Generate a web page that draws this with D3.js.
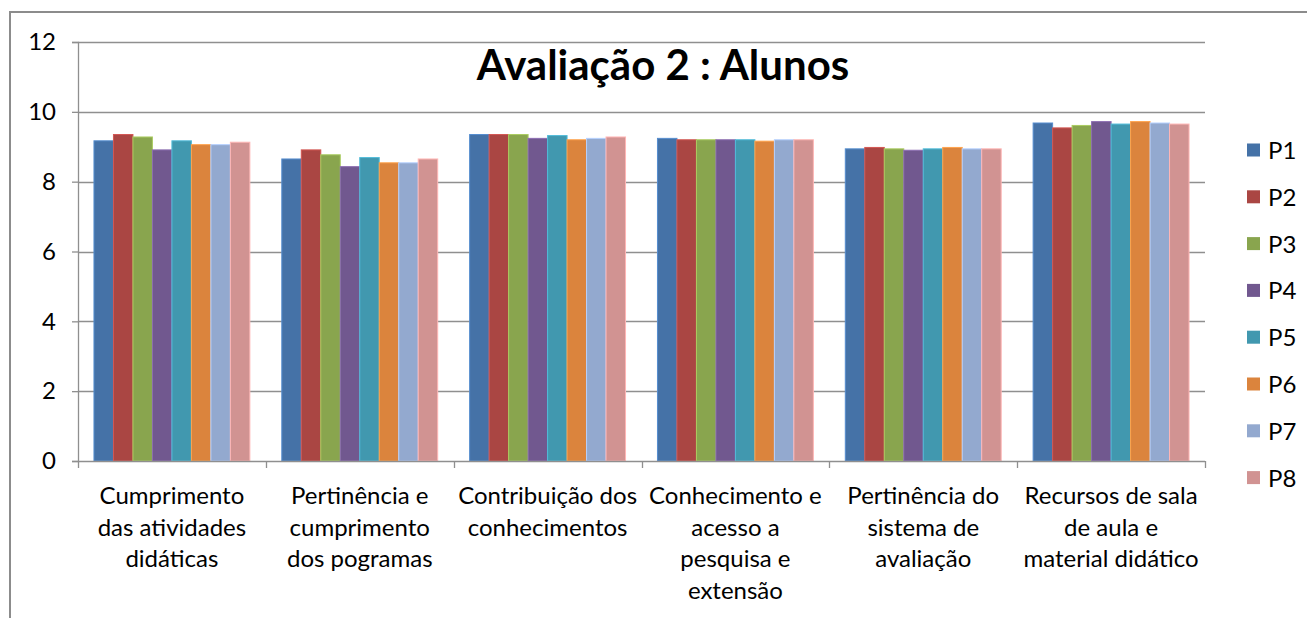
<!DOCTYPE html>
<html>
<head>
<meta charset="utf-8">
<script src="https://cdn.jsdelivr.net/npm/d3@7"></script>
<style>
  html, body { margin: 0; padding: 0; background: #fff; }
  svg { display: block; }
  text { font-family: Lato, "Open Sans", sans-serif; fill: #000; }
</style>
</head>
<body>
<svg id="chart" width="1307" height="618"></svg>
<script>
const categories = [
  ["Cumprimento", "das atividades", "didáticas"],
  ["Pertinência e", "cumprimento", "dos pogramas"],
  ["Contribuição dos", "conhecimentos"],
  ["Conhecimento e", "acesso a", "pesquisa e", "extensão"],
  ["Pertinência do", "sistema de", "avaliação"],
  ["Recursos de sala", "de aula e", "material didático"]
];
const seriesNames = ["P1", "P2", "P3", "P4", "P5", "P6", "P7", "P8"];
const P1 = [9.17, 8.65, 9.35, 9.24, 8.94, 9.68];
const P2 = [9.35, 8.91, 9.35, 9.20, 8.98, 9.54];
const P3 = [9.28, 8.77, 9.35, 9.20, 8.94, 9.61];
const P4 = [8.91, 8.43, 9.24, 9.20, 8.90, 9.72];
const P5 = [9.17, 8.69, 9.32, 9.20, 8.94, 9.65];
const P6 = [9.06, 8.54, 9.20, 9.16, 8.98, 9.72];
const P7 = [9.06, 8.54, 9.24, 9.20, 8.94, 9.68];
const P8 = [9.13, 8.65, 9.28, 9.20, 8.94, 9.65];
const seriesValues = [P1, P2, P3, P4, P5, P6, P7, P8];
const colors = ["#4572A7", "#AA4643", "#89A54E", "#71588F", "#4198AF", "#DB843D", "#93A9CF", "#D19392"];
const yTicks = [0, 2, 4, 6, 8, 10, 12];
const title = "Avaliação 2 : Alunos";

(function () {
const svg = d3.select("#chart");
const catKeys = categories.map((c, i) => i);

svg.append("path")
  .attr("d", "M10,618 L10,12 L1307,12")
  .attr("fill", "none").attr("stroke", "#8c8c8c").attr("stroke-width", 2);

const pLeft = 78, pRight = 1205, pTop = 42, pBottom = 461;
const y = d3.scaleLinear().domain([0, 12]).range([pBottom, pTop]);
const x0 = d3.scaleBand().domain(catKeys).range([pLeft, pRight]).padding(0);
const bw = x0.bandwidth();
const x1 = d3.scaleBand().domain(seriesNames).range([bw * 0.085, bw * 0.915]).padding(0);

svg.append("g").selectAll("line").data(yTicks.filter(d => d > 0)).join("line")
  .attr("x1", pLeft).attr("x2", pRight)
  .attr("y1", d => Math.round(y(d)) + 0.5).attr("y2", d => Math.round(y(d)) + 0.5)
  .attr("stroke", "#8f8f8f").attr("stroke-width", 1.3);

const yAxis = d3.axisLeft(y).tickValues(yTicks).tickSize(6).tickPadding(16).tickFormat(d3.format("d"));
const gy = svg.append("g").attr("transform", `translate(${pLeft},0)`).call(yAxis);
gy.select(".domain").attr("stroke", "#8f8f8f").attr("stroke-width", 1.3);
gy.selectAll(".tick line").attr("stroke", "#8f8f8f").attr("stroke-width", 1.3);
gy.selectAll(".tick text").attr("font-size", 24).attr("font-family", "Lato, sans-serif").attr("fill", "#111");

const groups = svg.append("g").selectAll("g").data(catKeys).join("g")
  .attr("transform", d => `translate(${x0(d)},0)`);
groups.selectAll("rect")
  .data(ci => seriesNames.map((s, si) => ({ s, si, v: seriesValues[si][ci] })))
  .join("rect")
  .attr("x", d => x1(d.s))
  .attr("width", x1.bandwidth())
  .attr("y", d => y(d.v))
  .attr("height", d => y(0) - y(d.v))
  .attr("fill", d => colors[d.si])
  .attr("stroke", d => d3.color(colors[d.si]).brighter(0.6))
  .attr("stroke-width", 1);

const xAxisLine = svg.append("g");
xAxisLine.append("line").attr("x1", pLeft).attr("x2", pRight)
  .attr("y1", pBottom + 0.5).attr("y2", pBottom + 0.5)
  .attr("stroke", "#8f8f8f").attr("stroke-width", 1.3);
const bounds = catKeys.map(k => x0(k)).concat([pRight]);
xAxisLine.selectAll("line.tk").data(bounds).join("line").attr("class", "tk")
  .attr("x1", d => Math.round(d) + 0.5).attr("x2", d => Math.round(d) + 0.5)
  .attr("y1", pBottom).attr("y2", pBottom + 7)
  .attr("stroke", "#8f8f8f").attr("stroke-width", 1.3);

const lbl = svg.append("g").selectAll("text").data(catKeys).join("text")
  .attr("text-anchor", "middle")
  .attr("font-size", 24)
  .attr("fill", "#222");
lbl.each(function (ci) {
  const t = d3.select(this);
  categories[ci].forEach((line, li) => {
    t.append("tspan").attr("x", x0(ci) + bw / 2).attr("y", 504 + li * 31.5).text(line);
  });
});

svg.append("text").attr("x", 663).attr("y", 80).attr("text-anchor", "middle")
  .attr("font-size", 42).attr("font-weight", "bold").text(title);

const lg = svg.append("g").selectAll("g").data(seriesNames).join("g")
  .attr("transform", (d, i) => `translate(1247,${150 + i * 46.8})`);
lg.append("rect").attr("x", 0).attr("y", -6.5).attr("width", 13).attr("height", 13)
  .attr("fill", (d, i) => colors[i]);
lg.append("text").attr("x", 21).attr("y", 9).attr("font-size", 24).attr("fill", "#222").text(d => d);
})();
</script>
</body>
</html>
